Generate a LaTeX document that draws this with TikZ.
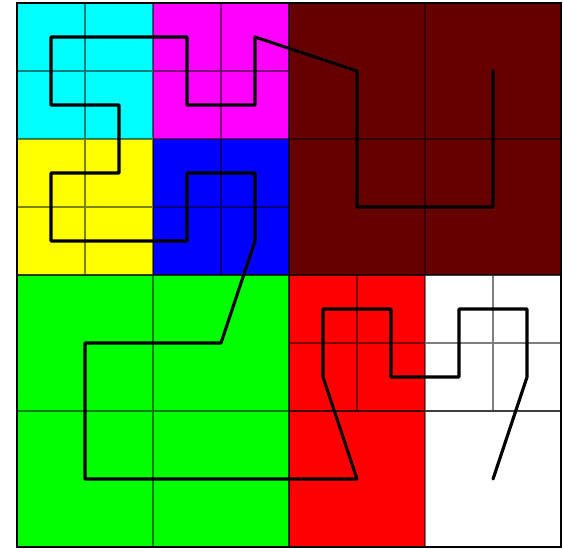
\documentclass[tikz,border=0pt]{standalone}
\usetikzlibrary{calc}
\definecolor{cellCyan}{RGB}{0,255,255}
\definecolor{cellMagenta}{RGB}{255,0,255}
\definecolor{cellYellow}{RGB}{255,255,0}
\definecolor{cellBlue}{RGB}{0,0,255}
\definecolor{cellMaroon}{RGB}{102,0,0}
\definecolor{cellGreen}{RGB}{0,255,0}
\definecolor{cellRed}{RGB}{255,0,0}

\begin{document}
\begin{tikzpicture}[
  gridline/.style={draw=black, draw opacity=0.5, line width=0.6pt},
  frame/.style={draw=black, line width=1pt},
  curve/.style={draw=black, line width=1.3pt, line join=round, line cap=round}
]
\useasboundingbox (-0.25,-0.015) rectangle (8.029,8.044);
% cells (y counted upwards, top row at y=8)
\fill[cellCyan]    (0,6) rectangle (2,8);
\fill[cellMagenta] (2,6) rectangle (4,8);
\fill[cellYellow]  (0,4) rectangle (2,6);
\fill[cellBlue]    (2,4) rectangle (4,6);
\fill[cellMaroon]  (4,4) rectangle (8,8);
\fill[cellGreen]   (0,0) rectangle (4,4);
\fill[cellRed]     (4,0) rectangle (6,4);
\fill[white]       (6,0) rectangle (8,4);
% subdivisions
\draw[gridline] (0,4) grid[step=1] (4,8);
\draw[gridline] (4,4) grid[step=2] (8,8);
\draw[gridline] (0,0) grid[step=2] (4,4);
\draw[gridline] (4,2) grid[step=1] (8,4);
\draw[gridline] (4,0) grid[step=2] (8,2);
\draw[frame] (0,0) rectangle (8,8);
% curve
\draw[curve] (7,7) -- (7,5) -- (5,5) -- (5,7) -- (3.5,7.5) -- (3.5,6.5)
  -- (2.5,6.5) -- (2.5,7.5) -- (0.5,7.5) -- (0.5,6.5) -- (1.5,6.5)
  -- (1.5,5.5) -- (0.5,5.5) -- (0.5,4.5) -- (2.5,4.5) -- (2.5,5.5)
  -- (3.5,5.5) -- (3.5,4.5) -- (3,3) -- (1,3) -- (1,1) -- (5,1)
  -- (4.5,2.5) -- (4.5,3.5) -- (5.5,3.5) -- (5.5,2.5) -- (6.5,2.5)
  -- (6.5,3.5) -- (7.5,3.5) -- (7.5,2.5) -- (7,1);
\end{tikzpicture}
\end{document}
